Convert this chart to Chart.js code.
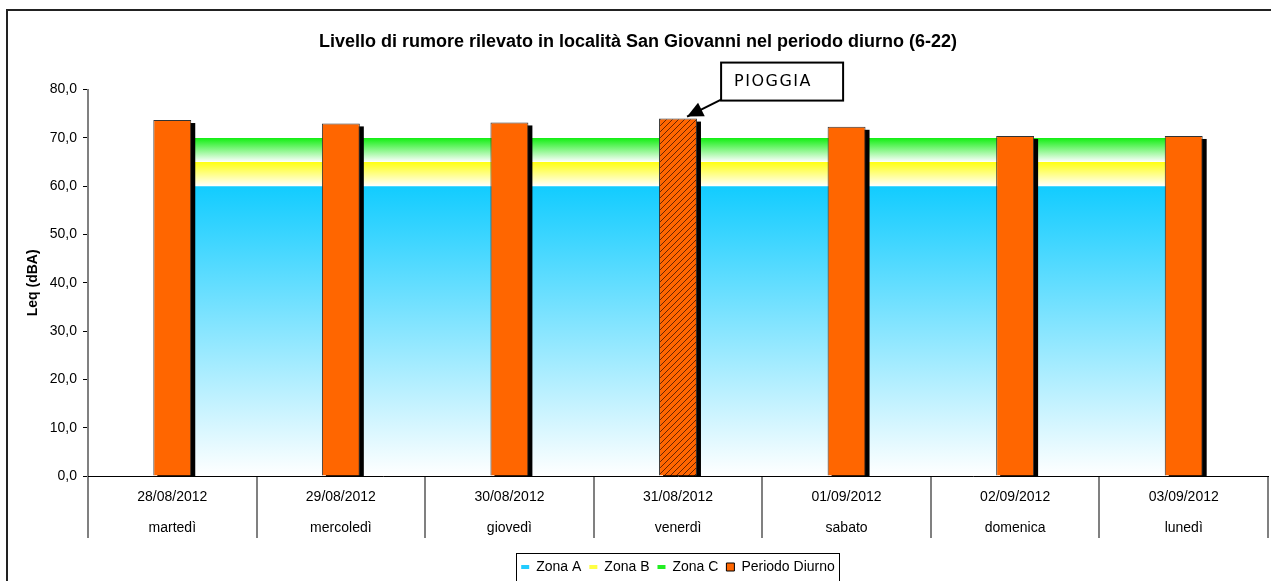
<!DOCTYPE html>
<html lang="it">
<head>
<meta charset="UTF-8" />
<title>Livello di rumore - San Giovanni</title>
<script src="https://cdn.jsdelivr.net/npm/chart.js@4"></script>
<style>
  html, body { margin: 0; padding: 0; background: #fff; overflow: hidden; }
  #frame { position: absolute; left: 6px; top: 9px; width: 1300px; height: 620px; border: 2px solid #222; }
  #wrap { position: absolute; left: 0; top: 0; width: 1271px; height: 581px; }
</style>
</head>
<body>
<div id="frame"></div>
<div id="wrap"><canvas id="chart"></canvas></div>

<script>
  // dati
  const dates = ['28/08/2012', '29/08/2012', '30/08/2012', '31/08/2012', '01/09/2012', '02/09/2012', '03/09/2012'];
  const giorni = ['martedì', 'mercoledì', 'giovedì', 'venerdì', 'sabato', 'domenica', 'lunedì'];
  const periodoDiurno = [73.7, 73.0, 73.2, 74.0, 72.3, 70.4, 70.4];
  const pioggia = [false, false, false, true, false, false, false];
  const zonaA = [60, 60, 60, 60, 60, 60, 60];
  const zonaB = [65, 65, 65, 65, 65, 65, 65];
  const zonaC = [70, 70, 70, 70, 70, 70, 70];
  const serie = ['Zona A', 'Zona B', 'Zona C', 'Periodo Diurno'];
  const yMin = 0, yMax = 80, yStep = 10;

  const ORANGE = '#FF6600';
  Chart.defaults.font.family = "'Liberation Sans', Arial, sans-serif";
  Chart.defaults.color = '#000';

  const makeHatch = () => {
    const c = document.createElement('canvas');
    c.width = c.height = 6;
    const g = c.getContext('2d');
    g.fillStyle = ORANGE;
    g.fillRect(0, 0, 6, 6);
    g.strokeStyle = '#6a2400';
    g.lineWidth = 1;
    g.beginPath();
    g.moveTo(0, 6); g.lineTo(6, 0);
    g.moveTo(-1, 1); g.lineTo(1, -1);
    g.moveTo(5, 7); g.lineTo(7, 5);
    g.stroke();
    return g.createPattern(c, 'repeat');
  };
  const hatch = makeHatch();

  // gradient: colore pieno al limite superiore, bianco al limite inferiore
  const bandGradient = (from, to, color) => ctx => {
    const chart = ctx.chart;
    if (!chart.chartArea) return color;
    const y = chart.scales.y;
    const g = chart.ctx.createLinearGradient(0, y.getPixelForValue(to), 0, y.getPixelForValue(from));
    g.addColorStop(0, color);
    g.addColorStop(1, '#ffffff');
    return g;
  };

  // ombra nera delle colonne, disegnata prima delle colonne stesse
  const barShadow = {
    id: 'barShadow',
    beforeDatasetDraw(chart, args) {
      if (chart.data.datasets[args.index].type !== 'bar') return;
      const c = chart.ctx, area = chart.chartArea;
      c.save();
      c.beginPath();
      c.rect(area.left, area.top, area.width, area.height);
      c.clip();
      c.fillStyle = '#000';
      args.meta.data.forEach(el => {
        const { x, y, base, width } = el.getProps(['x', 'y', 'base', 'width'], true);
        c.fillRect(x - width / 2 + 4, y + 3, width, base - y);
      });
      c.restore();
    }
  };

  const pioggiaNote = {
    id: 'pioggiaNote',
    afterDatasetsDraw(chart) {
      const c = chart.ctx;
      const meta = chart.getDatasetMeta(3);
      pioggia.forEach((p, i) => {
        if (!p) return;
        const bar = meta.data[i];
        const tipX = bar.x + bar.width * 0.24, tipY = bar.y - 2;
        const boxX = tipX + 34, boxY = tipY - 54, boxW = 122, boxH = 38;
        const sx = boxX + 4, sy = boxY + 35;
        c.save();
        c.strokeStyle = '#000';
        c.fillStyle = '#000';
        c.lineWidth = 2;
        c.beginPath();
        c.moveTo(sx, sy);
        c.lineTo(tipX, tipY);
        c.stroke();
        // punta della freccia
        const dx = tipX - sx, dy = tipY - sy, len = Math.hypot(dx, dy);
        const ux = dx / len, uy = dy / len;
        const bx = tipX - ux * 16, by = tipY - uy * 16;
        c.beginPath();
        c.moveTo(tipX, tipY);
        c.lineTo(bx - uy * 7.5, by + ux * 7.5);
        c.lineTo(bx + uy * 7.5, by - ux * 7.5);
        c.closePath();
        c.fill();
        // riquadro
        c.fillStyle = '#fff';
        c.fillRect(boxX, boxY, boxW, boxH);
        c.strokeRect(boxX, boxY, boxW, boxH);
        c.fillStyle = '#000';
        c.font = "16px 'DejaVu Sans', sans-serif";
        c.letterSpacing = '1.5px';
        c.textBaseline = 'middle';
        c.textAlign = 'left';
        c.fillText('PIOGGIA', boxX + 13, boxY + boxH / 2);
        c.restore();
      });
    }
  };

  const legendBox = {
    id: 'legendBox',
    afterDraw(chart) {
      const boxes = chart.legend.legendHitBoxes;
      if (!boxes || !boxes.length) return;
      const left = Math.min(...boxes.map(b => b.left)) - 5;
      const right = Math.max(...boxes.map(b => b.left + b.width)) + 4;
      const top = boxes[0].top - 7;
      const c = chart.ctx;
      c.save();
      c.strokeStyle = '#000';
      c.lineWidth = 1;
      c.strokeRect(Math.round(left) + 0.5, Math.round(top) + 0.5, Math.round(right - left), 100);
      c.restore();
    }
  };

  new Chart(document.getElementById('chart'), {
    data: {
      labels: dates.map((d, i) => [d, giorni[i]]),
      datasets: [
        { type: 'line', label: serie[0], data: zonaA, fill: 'origin', order: 1,
          backgroundColor: bandGradient(yMin, zonaA[0], '#12CCFF'),
          borderColor: 'transparent', borderWidth: 0, pointRadius: 0 },
        { type: 'line', label: serie[1], data: zonaB, fill: '-1', order: 2,
          backgroundColor: bandGradient(zonaA[0], zonaB[0], '#FFFF11'),
          borderColor: 'transparent', borderWidth: 0, pointRadius: 0 },
        { type: 'line', label: serie[2], data: zonaC, fill: '-1', order: 3,
          backgroundColor: bandGradient(zonaB[0], zonaC[0], '#11EE11'),
          borderColor: 'transparent', borderWidth: 0, pointRadius: 0 },
        { type: 'bar', label: serie[3], data: periodoDiurno, order: 0, clip: 0,
          backgroundColor: pioggia.map(p => p ? hatch : ORANGE),
          borderColor: '#333', borderWidth: 1,
          categoryPercentage: 1, barPercentage: 0.225 }
      ]
    },
    options: {
      responsive: true,
      maintainAspectRatio: false,
      animation: false,
      events: [],
      layout: { padding: { left: 8, right: 3, top: 0, bottom: -3 } },
      plugins: {
        title: {
          display: true,
          text: 'Livello di rumore rilevato in località San Giovanni nel periodo diurno (6-22)',
          font: { size: 18, weight: 'bold' },
          padding: { top: 31, bottom: 37 }
        },
        legend: {
          position: 'bottom',
          fullSize: false,
          labels: {
            usePointStyle: true,
            pointStyleWidth: 8,
            boxHeight: 8,
            padding: 8,
            font: { size: 14 },
            generateLabels: () => [
              { text: serie[0], pointStyle: 'line', strokeStyle: '#22CCFF', fillStyle: '#22CCFF', lineWidth: 4, datasetIndex: 0 },
              { text: serie[1], pointStyle: 'line', strokeStyle: '#FFFF44', fillStyle: '#FFFF44', lineWidth: 4, datasetIndex: 1 },
              { text: serie[2], pointStyle: 'line', strokeStyle: '#22EE22', fillStyle: '#22EE22', lineWidth: 4, datasetIndex: 2 },
              { text: serie[3], pointStyle: 'rect', strokeStyle: '#000', fillStyle: ORANGE, lineWidth: 1, datasetIndex: 3 }
            ]
          }
        },
        tooltip: { enabled: false }
      },
      scales: {
        x: {
          type: 'category',
          offset: true,
          afterFit: s => { s.height = 76; },
          grid: { offset: true, drawOnChartArea: false, tickLength: 62, color: '#808080', lineWidth: 2 },
          border: { color: '#000', width: 1, z: 1 },
          ticks: { font: { size: 14, lineHeight: 2.2 }, padding: -56, maxRotation: 0, autoSkip: false }
        },
        y: {
          min: yMin,
          max: yMax,
          afterFit: s => { s.width = 80; },
          title: { display: true, text: 'Leq (dBA)', font: { size: 14, weight: 'bold' }, padding: { top: 17, bottom: 0 } },
          grid: { drawOnChartArea: false, tickLength: 5, color: '#000' },
          border: { color: '#808080', width: 2 },
          ticks: {
            stepSize: yStep,
            padding: 6,
            font: { size: 14 },
            callback: v => v.toFixed(1).replace('.', ',')
          }
        }
      }
    },
    plugins: [barShadow, pioggiaNote, legendBox]
  });
</script>
</body>
</html>
